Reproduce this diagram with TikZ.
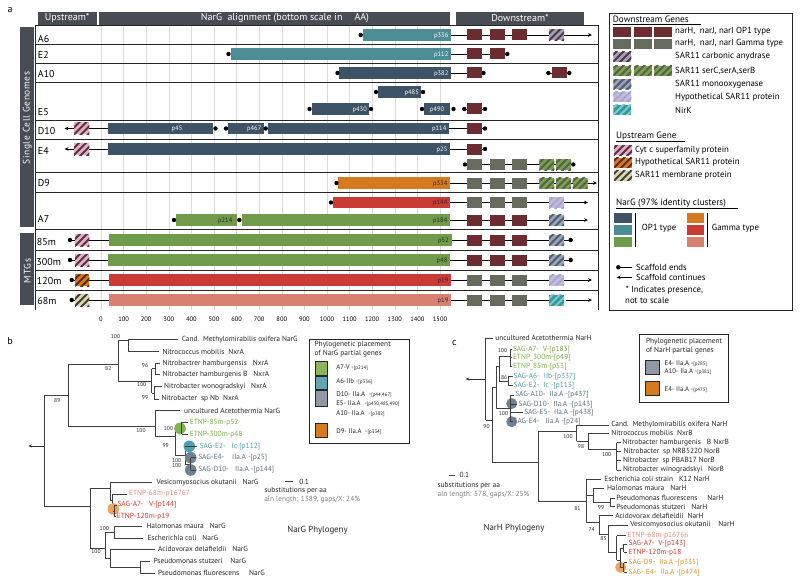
\documentclass[tikz,border=0pt]{standalone}
\usepackage{fontspec}
\setmainfont{PT Sans}
\usetikzlibrary{arrows.meta}
\definecolor{hdr}{HTML}{484C53}
\definecolor{opa}{HTML}{3F5366}
\definecolor{opb}{HTML}{4B8C95}
\definecolor{opc}{HTML}{6F9B4A}
\definecolor{gma}{HTML}{D57A20}
\definecolor{gmb}{HTML}{C93B34}
\definecolor{gmc}{HTML}{D98170}
\definecolor{mar}{HTML}{6B2D30}
\definecolor{olv}{HTML}{676B5E}
\definecolor{lil}{HTML}{D5B3D3}
\definecolor{lblue}{HTML}{90A5CB}
\definecolor{lgreen}{HTML}{BCE3B6}
\definecolor{sgreen}{HTML}{78A443}
\definecolor{sgray}{HTML}{5A5C5A}
\definecolor{hblue}{HTML}{93AEDA}
\definecolor{nirkc}{HTML}{2F9D9B}
\definecolor{nirks}{HTML}{86C6D4}
\definecolor{dbrown}{HTML}{5A2B20}
\definecolor{tgreen}{HTML}{7BAE46}
\definecolor{tteal}{HTML}{4C9BAA}
\definecolor{tslate}{HTML}{5D7083}
\definecolor{tsalm}{HTML}{E68C7A}
\definecolor{tred}{HTML}{D2392D}
\definecolor{torange}{HTML}{E4922F}
\definecolor{cgreen}{HTML}{85B251}
\definecolor{cteal}{HTML}{4D9FAE}
\definecolor{cslate}{HTML}{6F8294}
\definecolor{corange}{HTML}{EBA45C}
\definecolor{lgbox}{HTML}{8DB35F}
\definecolor{ltbox}{HTML}{62A6B0}
\definecolor{lsbox}{HTML}{8E99A4}
\newcommand\fsz[1]{\fontsize{#1}{#1}\selectfont}
\newcommand\hatchrect[6]{%
  \begin{scope}
    \clip ({#1},{#2}) rectangle ({#3},{#4});
    \fill[#5] ({#1},{#2}) rectangle ({#3},{#4});
    \foreach \k in {0,...,7}{\draw[#6,line width=2pt] ({#1-16+\k*7},{#4+2}) -- ++(18,-18);}
  \end{scope}}
\newcommand\gbox[3]{\fill[#3] ({#1},{#2-5.5}) rectangle ({#1+15},{#2+5.5});}
\newcommand\hgene[4]{\hatchrect{#1}{#2-5.5}{#1+15}{#2+5.5}{#3}{#4}}
\newcommand\gcarb[2]{\hgene{#1}{#2}{lblue}{mar}}
\newcommand\gser[2]{\hgene{#1}{#2}{sgreen}{sgray}}
\newcommand\gmono[2]{\hgene{#1}{#2}{lblue}{sgray}}
\newcommand\ghyp[2]{\hgene{#1}{#2}{lil}{hblue}}
\newcommand\gnirk[2]{\hgene{#1}{#2}{nirkc}{nirks}}
\newcommand\trio[2]{\gbox{467.3}{#1}{#2}\gbox{490}{#1}{#2}\gbox{511.7}{#1}{#2}}
\newcommand\sdot[2]{\fill[black] (#1,#2) circle[radius=2.2pt];}
\newcommand\nbar[4]{\fill[#4] ({#1},{#3-5.8}) rectangle ({#2},{#3+5.8});}
\newcommand\lbox[3]{\fill[#3] ({#1},{#2-5}) rectangle ({#1+18},{#2+5});}
\newcommand\lhatch[4]{\hatchrect{#1}{#2-5}{#1+18}{#2+5}{#3}{#4}}
\newcommand\sm[1]{{\fsz{5}#1}}
\begin{document}
\begin{tikzpicture}[x=1pt,y=-1pt,
  ln/.style={line width=0.9pt, black},
  arr/.style={line width=0.9pt, black, -{Stealth[length=4pt,width=3.6pt]}},
  rowl/.style={line width=0.7pt, black!85},
  gridl/.style={line width=0.6pt, black!14},
  blab/.style={font=\fsz{6.5}, inner sep=0.5pt},
  rlab/.style={font=\fsz{10}, anchor=west, inner sep=0pt},
  leg/.style={font=\fsz{8.8}, anchor=west, inner sep=0pt},
  tl/.style={font=\fsz{7.4}, anchor=west, inner sep=0.6pt, text=black!85},
  bs/.style={font=\fsz{5.6}, inner sep=0pt, text=black!85},
  tr/.style={line width=0.8pt, black!75},
  tarr/.style={line width=0.8pt, black!80, -{Stealth[length=3.5pt,width=3pt]}},
  lgb/.style={draw=black!85, line width=0.8pt}]
\useasboundingbox (0,0) rectangle (800,583);
\fill[white] (0,0) rectangle (800,583);

% ================= panel a =================
\node[font=\fsz{10}] (pa) at (10,10) {a};
\fill[hdr] (37.7,11.7) rectangle (96.7,25);
\fill[hdr] (99,11.7) rectangle (450,25);
\fill[hdr] (456,11.7) rectangle (584,25);
\node[font=\fsz{10},text=white] (hup) at (67.2,18.3) {Upstream*};
\node[font=\fsz{10},text=white] (hal) at (285,18.3) {NarG\ \ alignment (bottom scale in\hspace{12pt}AA)};
\node[font=\fsz{10},text=white] (hdn) at (520,18.3) {Downstream*};

\foreach \k [evaluate=\k as \v using int(\k*100)] in {0,...,15}{
  \draw[gridl] ({101+22.6*\k},25) -- ({101+22.6*\k},310);
  \node[font=\fsz{6.5}] (ax\k) at ({101+22.6*\k},319) {\v};
}
\fill[hdr] (20,26.7) rectangle (34,227);
\fill[hdr] (20,233) rectangle (34,305);
\node[rotate=90,text=white,font=\fsz{9.5}\addfontfeature{LetterSpace=6}] (lsc) at (27.3,118) {Single Cell Genomes};
\node[rotate=90,text=white,font=\fsz{9.5}\addfontfeature{LetterSpace=8}] (lmt) at (27.3,271) {MTGs};

\draw[rowl] (35,25) -- (35,310);
\draw[rowl] (598,25) -- (598,310);
\foreach \yy in {25,44.3,63.3,82.7,120.7,139.3,172.7,192.7,229.3,250,270,290}
  \draw[rowl] (35,\yy) -- (598,\yy);

\node[rlab] (rA6) at (37.7,39) {A6};
\node[rlab] (rE2) at (37.7,54.5) {E2};
\node[rlab] (rA10) at (37.7,74) {A10};
\node[rlab] (rE5) at (37.7,112) {E5};
\node[rlab] (rD10) at (37.7,131) {D10};
\node[rlab] (rE4) at (37.7,151) {E4};
\node[rlab] (rD9) at (37.7,183) {D9};
\node[rlab] (rA7) at (37.7,219) {A7};
\node[rlab] (r85) at (36.7,242) {85m};
\node[rlab] (r300) at (36.2,261.5) {300m};
\node[rlab] (r120) at (36.7,281) {120m};
\node[rlab] (r68) at (37.2,301) {68m};

% --- bars
\nbar{362.7}{451}{35}{opb}\sdot{360.7}{35}
\node[blab,text=white,anchor=east] (p336) at (449,35.5) {p336};
\nbar{230.7}{451}{54}{opb}\sdot{228.5}{54}
\node[blab,text=white,anchor=east] (p112) at (449,54.5) {p112};
\nbar{339}{451}{73}{opa}\sdot{337.5}{73}
\node[blab,text=white!85,anchor=east] (p382) at (449,73.5) {p382};
\nbar{377.7}{421}{92}{opa}\sdot{376}{92}\sdot{423}{92}
\node[blab,text=white!85,anchor=east] (p485) at (419.5,92.5) {p485};
\nbar{311.7}{369}{109}{opa}\sdot{309.5}{109}\sdot{371}{109}
\node[blab,text=white!85,anchor=east] (p430) at (367.5,109.5) {p430};
\nbar{424}{450}{109}{opa}\sdot{422}{109}\sdot{453.5}{109}
\node[blab,text=white!85] (p490) at (437,109.5) {p490};
% D10
\nbar{107.7}{213}{128.5}{opa}\sdot{215.5}{128.5}\sdot{226}{128.5}
\nbar{228}{264}{128.5}{opa}\sdot{265.7}{128.5}
\nbar{267.5}{449}{128.5}{opa}
\node[blab,text=white!85] (p45) at (177,129) {p45};
\node[blab,text=white!85,anchor=east] (p467) at (262,129) {p467};
\node[blab,text=white!85,anchor=east] (p114) at (447,129) {p114};
% E4
\nbar{107.7}{450}{149}{opa}
\node[blab,text=white!85,anchor=east] (p25) at (448,149.5) {p25};
% D9
\nbar{338}{450}{183}{gma}\sdot{336.5}{183}
\node[blab,text=black!85,anchor=east] (p334) at (448,183.5) {p334};
% A7
\nbar{332.7}{450}{202.5}{gmb}\sdot{331}{202.5}
\node[blab,text=black!85,anchor=east] (p144) at (448,203) {p144};
\nbar{175.7}{236.7}{220}{opc}\sdot{174}{220}\sdot{239.3}{220}
\node[blab,text=black!85,anchor=east] (p214) at (233,220.5) {p214};
\nbar{242.3}{450}{220}{opc}
\node[blab,text=black!85,anchor=east] (p184) at (448,220.5) {p184};
% MTGs
\nbar{109}{451.7}{240}{opc}
\node[blab,text=black!85,anchor=east] (p52) at (449.5,240.5) {p52};
\nbar{107.7}{450}{260}{opc}
\node[blab,text=black!85,anchor=east] (p48) at (448,260.5) {p48};
\nbar{108.7}{451}{280}{gmb}
\node[blab,text=black!85,anchor=east] (p19a) at (449,280.5) {p19};
\nbar{109}{451}{300}{gmc}
\node[blab,text=black!85,anchor=east] (p19b) at (449,300.5) {p19};

% --- upstream genes
\draw[arr] (74,128.5) -- (64.5,128.5);
\hatchrect{74}{122.5}{89.3}{134.5}{lil}{mar}
\draw[ln] (89.3,128.5) -- (107.7,128.5);
\draw[arr] (74,149) -- (64.5,149);
\hatchrect{74}{143}{89.3}{155}{lil}{mar}
\draw[ln] (89.3,149) -- (107.7,149);
\sdot{70}{240}\draw[ln] (70,240) -- (75,240);
\hatchrect{75}{234}{89.3}{246}{lil}{mar}
\draw[ln] (89.3,240) -- (109,240);
\sdot{70}{260}\draw[ln] (70,260) -- (75,260);
\hatchrect{75}{254}{89.3}{266}{lil}{mar}
\draw[ln] (89.3,260) -- (107.7,260);
\sdot{71.7}{280}\draw[ln] (71.7,280) -- (75,280);
\hatchrect{75}{274}{89.3}{286}{gma}{dbrown}
\draw[ln] (89.3,280) -- (108.7,280);
\sdot{71.7}{300}\draw[ln] (71.7,300) -- (75,300);
\hatchrect{75}{294}{89.3}{306}{lgreen}{mar}
\draw[ln] (89.3,300) -- (109,300);

% --- downstream genes
\draw[arr] (451,35) -- (592,35); \trio{35}{mar} \gcarb{549}{35}
\draw[ln] (451,54) -- (507.3,54); \sdot{507.3}{54}
\gbox{467.3}{54}{mar}\gbox{490}{54}{mar}
\draw[ln] (451,73) -- (483.5,73); \sdot{483.5}{73} \gbox{467.3}{73}{mar}
\draw[ln] (548.3,73) -- (569.3,73); \sdot{548.3}{73}\sdot{569.3}{73} \gbox{551.7}{73}{mar}
\draw[ln] (464.3,109) -- (485,109); \sdot{464.3}{109}\sdot{485}{109} \gbox{467.3}{109}{mar}
\draw[ln] (449,128.5) -- (485,128.5); \sdot{485}{128.5} \gbox{467.3}{128.5}{mar}
\draw[ln] (450,149) -- (485,149); \sdot{485}{149} \gbox{467.3}{149}{mar}
\draw[ln] (465,164.5) -- (573.3,164.5); \sdot{465}{164.5}\sdot{573.3}{164.5}
\trio{164.5}{olv} \gser{539.3}{164.5}\gser{556}{164.5}
\draw[arr] (450,183) -- (597,183); \trio{183}{olv}
\gser{539.3}{183}\gser{556}{183}\gser{572.7}{183}
\draw[arr] (450,202.5) -- (588,202.5); \trio{202.5}{olv} \ghyp{549}{202.5}
\draw[arr] (450,220) -- (588,220); \trio{220}{mar} \gmono{549}{220}
\draw[ln] (451.7,240) -- (570.7,240); \sdot{570.7}{240} \trio{240}{mar} \gmono{549}{240}
\draw[ln] (450,260) -- (570.7,260); \sdot{570.7}{260} \trio{260}{mar} \gmono{549}{260}
\draw[arr] (451,280) -- (592,280); \trio{280}{olv} \ghyp{549}{280}
\draw[ln] (451,300) -- (549,300); \draw[arr] (565.7,300) -- (592,300);
\trio{300}{olv} \gnirk{549}{300}

% --- legend a
\draw[lgb] (609.3,13.3) rectangle (792.3,310.7);
\node[leg,font=\fsz{9.2}] (ldg) at (612.7,19.2) {Downstream Genes};
\draw[line width=0.6pt] (612.7,24.2) -- (700.5,24.2);
\lbox{613.3}{31.7}{mar}\lbox{634}{31.7}{mar}\lbox{654}{31.7}{mar}
\node[leg] (l1) at (675,31.7) {narH,\ \ narJ, narI OP1 type};
\lbox{613.3}{43.7}{olv}\lbox{634}{43.7}{olv}\lbox{654}{43.7}{olv}
\node[leg] (l2) at (675,43.7) {narH,\ \ narJ, narI Gamma type};
\lhatch{613.3}{56.7}{lblue}{mar}
\node[leg] (l3) at (675,56.7) {SAR11 carbonic anydrase};
\lhatch{613.3}{70.7}{sgreen}{sgray}\lhatch{634}{70.7}{sgreen}{sgray}\lhatch{654}{70.7}{sgreen}{sgray}
\node[leg] (l4) at (675,70.7) {SAR11 serC,serA,serB};
\lhatch{613.3}{84.3}{lblue}{sgray}
\node[leg] (l5) at (675,84.3) {SAR11 monooxygenase};
\lhatch{613.3}{97}{lil}{hblue}
\node[leg] (l6) at (675,97) {Hypothetical SAR11 protein};
\lhatch{613.3}{110}{nirkc}{nirks}
\node[leg] (l7) at (675,110) {NirK};
\node[leg,font=\fsz{9.2}] (lug) at (616,136) {Upstream Gene};
\draw[line width=0.6pt] (616,141) -- (685,141);
\lhatch{614}{150}{lil}{mar}
\node[leg] (l8) at (635,150) {Cyt c superfamily protein};
\lhatch{614}{162.7}{gma}{dbrown}
\node[leg] (l9) at (635,162.7) {Hypothetical SAR11 protein};
\lhatch{614}{175.7}{lgreen}{mar}
\node[leg] (l10) at (635,175.7) {SAR11 membrane protein};
\node[leg,font=\fsz{9.2}] (lng) at (616,203.3) {NarG (97\% identity clusters)};
\draw[line width=0.6pt] (616,208.5) -- (738,208.5);
\fill[opa] (614,213.3) rectangle (631.7,222.7);
\fill[opb] (614,225.3) rectangle (631.7,235);
\fill[opc] (614,237.3) rectangle (631.7,246.7);
\draw[line width=0.6pt] (635,213.3) -- (635,247);
\node[leg] (lop) at (641.7,228) {OP1 type};
\fill[gma] (686.7,213.3) rectangle (704.3,222.7);
\fill[gmb] (686.7,225.3) rectangle (704.3,235);
\fill[gmc] (686.7,237.3) rectangle (704.3,246.7);
\draw[line width=0.6pt] (707.7,213.3) -- (707.7,247);
\node[leg] (lgm) at (711.7,228) {Gamma type};
\sdot{618.3}{267.3}
\draw[ln] (618.3,267.3) -- (631.7,267.3);
\node[leg] (lse) at (636,267.3) {Scaffold ends};
\draw[arr] (631.7,277.3) -- (616.7,277.3);
\node[leg] (lsc2) at (636,277.3) {Scaffold continues};
\node[leg] (lst1) at (625.7,290) {* Indicates presence,};
\node[leg] (lst2) at (625,300.7) {not to scale};

% ================= panel b =================
\node[font=\fsz{10}] (pb) at (10,341) {b};
\draw[tarr] (44.3,446) -- (28.3,446);
\draw[tr] (44.3,395) -- (44.3,506);
\draw[tr] (44.3,395) -- (68.3,395);
\draw[tr] (68.3,364.3) -- (68.3,426.7);
\draw[tr] (68.3,364.3) -- (118.3,364.3);
\draw[tr] (118.3,340) -- (118.3,381);
\draw[tr] (118.3,340) -- (128.3,340);
\draw[tr] (128.3,339.3) -- (128.3,351.7);
\draw[tr] (128.3,339.3) -- (178.3,339.3);
\draw[tr] (128.3,351.7) -- (159.3,351.7);
\draw[tr] (118.3,381) -- (151.7,381);
\draw[tr] (151.7,368.5) -- (151.7,393);
\draw[tr] (151.7,368.5) -- (155,368.5);
\draw[tr] (155,363.3) -- (155,374.3);
\draw[tr] (155,363.3) -- (160,363.3);
\draw[tr] (155,374.3) -- (160,374.3);
\draw[tr] (151.7,393) -- (154,393);
\draw[tr] (154,386.7) -- (154,399);
\draw[tr] (154,386.7) -- (161.5,386.7);
\draw[tr] (154,399) -- (159,399);
\draw[tr] (68.3,426.7) -- (155,426.7);
\draw[tr] (155,410.7) -- (155,436);
\draw[tr] (155,410.7) -- (180,410.7);
\draw[tr] (155,436) -- (175,436);
\draw[tr] (175,428.3) -- (175,455);
\draw[tr] (175,428.3) -- (181.7,428.3);
\fill[cgreen] (180,428.3) circle[radius=5.8pt];
\draw[tr] (181.7,422.3) -- (181.7,434.3);
\draw[tr] (181.7,422.3) -- (188,422.3);
\draw[tr] (181.7,434.3) -- (188,434.3);
\draw[tr] (175,455) -- (185,455);
\draw[tr] (185,446.7) -- (185,464);
\fill[cteal] (189.3,446.3) circle[radius=5.8pt];
\draw[tr] (185,446.7) -- (197,446.7);
\draw[tr] (185,464) -- (190.7,464);
\fill[cslate] (190.7,457.7) circle[radius=5.8pt];
\fill[cslate] (190.7,470) circle[radius=5.8pt];
\draw[tr] (190.7,457.7) -- (190.7,470);
\draw[tr] (190.7,457.7) -- (196,457.7);
\draw[tr] (190.7,470) -- (196,470);
% lower
\draw[tr] (44.3,506) -- (90,506);
\draw[tr] (90,488.3) -- (90,548);
\draw[tr] (90,488.3) -- (110,488.3);
\draw[tr] (110,482.3) -- (110,500);
\draw[tr] (110,482.3) -- (151.7,482.3);
\draw[tr] (110,500) -- (112.7,500);
\draw[tr] (112.7,494) -- (112.7,511);
\draw[tr] (112.7,494) -- (126.7,494);
\fill[corange] (113.3,509) circle[radius=5.8pt];
\draw[tr] (112.7,511) -- (114.7,511);
\draw[tr] (114.7,505) -- (114.7,516.7);
\draw[tr] (114.7,505) -- (116.5,505);
\draw[tr] (114.7,516.7) -- (116,516.7);
\draw[tr] (90,548) -- (105,548);
\draw[tr] (105,532) -- (105,558);
\draw[tr] (105,532) -- (114.3,532);
\draw[tr] (114.3,526) -- (114.3,538.3);
\draw[tr] (114.3,526) -- (141.7,526);
\draw[tr] (114.3,538.3) -- (143.3,538.3);
\draw[tr] (105,558) -- (110,558);
\draw[tr] (110,549.3) -- (110,567);
\draw[tr] (110,549.3) -- (155,549.3);
\draw[tr] (110,567) -- (140,567);
\draw[tr] (140,561) -- (140,573.3);
\draw[tr] (140,561) -- (150,561);
\draw[tr] (140,573.3) -- (155,573.3);
% leaves b
\node[tl] (b1) at (181,339.3) {Cand.\ \ Methylomirabilis oxifera NarG};
\node[tl] (b2) at (161.7,351.7) {Nitrococcus mobilis\ \ NxrA};
\node[tl] (b3) at (161.7,363.3) {Nitrobactrer hamburgensis\ \ \ NxrA};
\node[tl] (b4) at (161.7,374.3) {Nitrobacter hamburgenis B\ \ \ NxrA};
\node[tl] (b5) at (163.3,386.7) {Nitrobacter wonogradskyi\ \ \ NxrA};
\node[tl] (b6) at (160.7,399) {Nitrobacter\ \ sp Nb\ \ NxrA};
\node[tl] (b7) at (183.3,410.7) {uncultured Acetothermia NarG};
\node[tl,text=tgreen] (b8) at (189,422.3) {ETNP-85m-p52};
\node[tl,text=tgreen] (b9) at (189,434.3) {ETNP-300m-p48};
\node[tl,text=tteal] (b10) at (199,446.7) {SAG-E2-\ \ \ Ic-[p112]};
\node[tl,text=tslate] (b11) at (197.5,457.7) {SAG-E4-\ \ \ \ IIa.A\ -[p25]};
\node[tl,text=tslate] (b12) at (197.5,470) {SAG-D10-\ \ \ IIa.A\ -[p144]};
\node[tl] (b13) at (155.7,482.3) {Vesicomyosocius okutanii\ \ \ NarG};
\node[tl,text=tsalm] (b14) at (128.3,494) {ETNP-68m-p16767};
\node[tl,text=tred] (b15) at (116.7,505) {SAG-A7-\ \ \ V-[p144]};
\node[tl,text=tred] (b16) at (116,516.7) {ETNP-120m-p19};
\node[tl] (b17) at (145.7,526) {Halomonas maura\ \ \ NarG};
\node[tl] (b18) at (146.7,538.3) {Escherichia coli\ \ \ NarG};
\node[tl] (b19) at (157.3,549.3) {Acidovorax delafieldii\ \ \ NarG};
\node[tl] (b20) at (152.7,561) {Pseudomonas stutzeri\ \ \ \ NarG};
\node[tl] (b21) at (157.3,573.3) {Pseudomonas fluorescens\ \ \ \ \ NarG};
% bootstrap b
\node[bs] (s1) at (115.5,337) {100};
\node[bs] (s2) at (108.3,368.3) {82};
\node[bs] (s3) at (145,366) {96};
\node[bs] (s4) at (141.7,384.8) {100};
\node[bs] (s5) at (145,397.5) {99};
\node[bs] (s6) at (57.3,400.5) {89};
\node[bs] (s7) at (141,431) {100};
\node[bs] (s8) at (168.5,428.3) {100};
\node[bs] (s9) at (165.7,446) {99};
\node[bs] (s10) at (176.7,460.7) {100};
\node[bs] (s11) at (176.7,466) {100};
\node[bs] (s12) at (96,552) {100};
\node[bs] (s13) at (104.3,528.8) {100};
% scale b
\draw[tr] (285,481.7) -- (293.3,481.7);
\node[tl] (sc1) at (298.5,481.7) {0.1};
\node[tl] (sc2) at (263.5,490.7) {substitutions per aa};
\node[tl,text=black!50] (sc3) at (263.5,500) {aln length: 1389, gaps/X: 24\%};
\node[font=\fsz{8.8},text=black!85] (tnb) at (317.5,530.7) {NarG Phylogeny};
% legend b
\draw[lgb] (309.3,339.3) rectangle (409.3,443.3);
\node[tl] (lb1) at (313.8,345) {Phylogenetic placement};
\node[tl] (lb2) at (313.8,354) {of NarG partial genes};
\filldraw[fill=lgbox,draw=black!85,line width=0.7pt] (315,361.7) rectangle (327.7,375);
\filldraw[fill=ltbox,draw=black!85,line width=0.7pt] (315,376) rectangle (327.7,389.3);
\filldraw[fill=lsbox,draw=black!85,line width=0.7pt] (315,390) rectangle (327.7,406);
\filldraw[fill=gma,draw=black!85,line width=0.7pt] (315,423.3) rectangle (327.7,437.3);
\node[tl,font=\fsz{6.8}] (lb3) at (335.5,367.7) {A7-V -\sm{[p214]}};
\node[tl,font=\fsz{6.8}] (lb4) at (335.5,381.7) {A6-IIb -\sm{[p336]}};
\node[tl,font=\fsz{6.8}] (lb5) at (335.5,395) {D10- IIa.A\ \ -\sm{[p44,467]}};
\node[tl,font=\fsz{6.8}] (lb6) at (335.5,403.5) {E5- IIa.A\ \ -\sm{[p430,485,490]}};
\node[tl,font=\fsz{6.8}] (lb7) at (335.5,413.3) {A10- IIa.A\ \ -\sm{[p382]}};
\node[tl,font=\fsz{6.8}] (lb8) at (335.5,431.7) {D9- IIa.A\ \ -\sm{[p334]}};

% ================= panel c =================
\node[font=\fsz{10}] (pc) at (454.3,342.7) {c};
\draw[tarr] (485.7,379) -- (465.7,379);
\draw[tr] (485.7,338.3) -- (485.7,420);
\draw[tr] (485.7,338.3) -- (492.7,338.3);
\draw[tr] (485.7,420) -- (492.7,420);
\draw[tr] (492.7,387) -- (492.7,462.7);
\draw[tr] (492.7,387) -- (496,387);
\draw[tr] (496,366) -- (496,408);
\draw[tr] (496,366) -- (499,366);
\draw[tr] (499,356) -- (499,381);
\draw[tr] (499,356) -- (510,356);
\draw[tr] (510,349.3) -- (510,366.7);
\draw[tr] (510,349.3) -- (512,349.3);
\draw[tr] (510,357.7) -- (512,357.7);
\draw[tr] (510,366.7) -- (512,366.7);
\draw[tr] (499,381) -- (508.3,381);
\draw[tr] (508.3,376.7) -- (508.3,385.7);
\draw[tr] (508.3,376.7) -- (512.5,376.7);
\draw[tr] (508.3,385.7) -- (512.5,385.7);
\draw[tr] (496,408) -- (510,408);
\fill[cslate] (511.7,403.5) circle[radius=5.5pt];
\fill[cslate] (511.7,421.7) circle[radius=5.5pt];
\draw[tr] (510,395) -- (510,421.7);
\draw[tr] (510,395) -- (514,395);
\draw[tr] (510,404.3) -- (517,404.3);
\draw[tr] (510,412.3) -- (522.7,412.3);
\draw[tr] (510,421.7) -- (513,421.7);
\draw[tr] (492.7,462.7) -- (538.3,462.7);
\draw[tr] (538.3,431.7) -- (538.3,501.7);
\draw[tr] (538.3,431.7) -- (576.7,431.7);
\draw[tr] (576.7,425) -- (576.7,441);
\draw[tr] (576.7,425) -- (609,425);
\draw[tr] (576.7,441) -- (588.3,441);
\draw[tr] (588.3,433.3) -- (588.3,449.3);
\draw[tr] (588.3,433.3) -- (609,433.3);
\draw[tr] (588.3,449.3) -- (616.7,449.3);
\draw[tr] (616.7,442.7) -- (616.7,470);
\foreach \yy in {442.7,451.7,460.7,470} \draw[tr] (616.7,\yy) -- (620.5,\yy);
\draw[tr] (538.3,501.7) -- (586,501.7);
\draw[tr] (586,479) -- (586,522);
\draw[tr] (586,479) -- (601,479);
\draw[tr] (586,495) -- (593,495);
\draw[tr] (593,488.3) -- (593,502.5);
\draw[tr] (593,488.3) -- (604,488.3);
\draw[tr] (593,502.5) -- (610,502.5);
\draw[tr] (610,498.3) -- (610,506.7);
\draw[tr] (610,498.3) -- (614.5,498.3);
\draw[tr] (610,506.7) -- (614.5,506.7);
\draw[tr] (586,522) -- (599.3,522);
\draw[tr] (599.3,515.7) -- (599.3,534);
\draw[tr] (599.3,515.7) -- (613,515.7);
\draw[tr] (599.3,534) -- (608.3,534);
\draw[tr] (608.3,525) -- (608.3,552);
\draw[tr] (608.3,525) -- (628,525);
\draw[tr] (608.3,552) -- (616.7,552);
\draw[tr] (616.7,535.7) -- (616.7,560);
\draw[tr] (616.7,535.7) -- (626,535.7);
\fill[corange] (620.7,567.3) circle[radius=5.5pt];
\draw[tr] (616.7,560) -- (620.7,560);
\draw[tr] (620.7,548) -- (620.7,567.5);
\draw[tr] (620.7,548) -- (623.5,548);
\draw[tr] (623.5,544) -- (623.5,552.3);
\draw[tr] (623.5,544) -- (627,544);
\draw[tr] (623.5,552.3) -- (627,552.3);
\draw[tr] (620.7,567.5) -- (623.5,567.5);
\draw[tr] (623.5,562.7) -- (623.5,572.3);
\draw[tr] (623.5,562.7) -- (627,562.7);
\draw[tr] (623.5,572.3) -- (627,572.3);
% leaves c
\node[tl] (c1) at (494.5,338.3) {uncultured Acetothermia NarH};
\node[tl,text=tgreen] (c2) at (512.2,349.3) {SAG-A7-\ \ V-[p183]};
\node[tl,text=tgreen] (c3) at (512.2,357.7) {ETNP\_300m-[p49]};
\node[tl,text=tgreen] (c4) at (512.2,366.7) {ETNP\_85m-[p53]};
\node[tl,text=tteal] (c5) at (512.8,376.7) {SAG-A6-\ \ IIb-[p337]};
\node[tl,text=tteal] (c6) at (512.8,385.7) {SAG-E2-\ \ Ic -[p113]};
\node[tl,text=tslate] (c7) at (514.5,395) {SAG-A10-\ \ IIa.A -[p437]};
\node[tl,text=tslate] (c8) at (517.8,404.3) {SAG-D10-\ \ IIa.A -[p143]};
\node[tl,text=tslate] (c9) at (523.5,412.3) {SAG-E5-\ \ IIa.A -[p438]};
\node[tl,text=tslate] (c10) at (512.8,421.7) {SAG-E4-\ \ \ IIa.A -[p24]};
\node[tl] (c11) at (610.5,424.6) {Cand.\ \ Methylomirabilis oxifera NarH};
\node[tl] (c12) at (610.5,433) {Nitrococcus mobilis\ \ NxrB};
\node[tl] (c13) at (621.5,442.7) {Nitrobacter hamburgenis\ \ \ B NxrB};
\node[tl] (c14) at (622.8,451.7) {Nitrobacter\ \ sp NRB5220 NorB};
\node[tl] (c15) at (622.2,460.7) {Nitrobacter\ \ sp PBAB17 NorB};
\node[tl] (c16) at (622.2,470) {Nitrobacter winogradskyi\ \ \ NorB};
\node[tl] (c17) at (603.5,479) {Escherichia coli strain\ \ \ K12 NarH};
\node[tl] (c18) at (606.2,488.3) {Halomonas maura\ \ \ NarH};
\node[tl] (c19) at (615.5,498.3) {Pseudomonas fluorescens\ \ \ \ \ NarH};
\node[tl] (c20) at (615.5,506.7) {Pseudomonas stutzeri\ \ \ NarH};
\node[tl] (c21) at (614.5,515.7) {Acidovorax delafieldii\ \ NarH};
\node[tl] (c22) at (629.5,525) {Vesicomyosocius okutanii\ \ \ \ NarH};
\node[tl,text=tsalm] (c23) at (626.8,535.7) {ETNP-68m-p16766};
\node[tl,text=tred] (c24) at (627.8,544) {SAG-A7-\ \ V-[p143]};
\node[tl,text=tred] (c25) at (627.8,552.3) {ETNP-120m-p18};
\node[tl,text=torange] (c26) at (627.8,562.7) {SAG-D9-\ \ IIa.A -[p335]};
\node[tl,text=torange] (c27) at (627.8,572.3) {SAG- E4-\ \ IIa.A -[p474]};
% bootstrap c
\node[bs] (t1) at (502.5,350.8) {100};
\node[bs,anchor=east] (t2) at (507.3,377.5) {86};
\node[bs] (t3) at (503.5,414) {100};
\node[bs] (t4) at (486.5,426.7) {90};
\node[bs] (t5) at (568,436.7) {100};
\node[bs] (t6) at (581,446.7) {98};
\node[bs] (t7) at (606.7,455) {100};
\node[bs] (t8) at (577.3,508.3) {81};
\node[bs] (t9) at (601,507.7) {99};
\node[bs] (t10) at (591.7,530) {74};
\node[bs] (t11) at (603.3,539) {83};
% scale c
\draw[tr] (449,475) -- (455,475);
\node[tl] (sd1) at (458.8,475) {0.1};
\node[tl] (sd2) at (436.8,485.7) {substitutions per aa};
\node[tl,text=black!50] (sd3) at (436.8,495) {aln length: 578, gaps/X: 25\%};
\node[font=\fsz{8.8},text=black!85] (tnc) at (514,528.3) {NarH Phylogeny};
% legend c
\draw[lgb] (639.3,334) rectangle (728.3,402.7);
\node[tl] (lc1) at (645.2,341.7) {Phylogenetic placement};
\node[tl] (lc2) at (645.2,351) {of NarH partial genes};
\filldraw[fill=lsbox,draw=black!85,line width=0.7pt] (645.7,360.7) rectangle (659,374.3);
\filldraw[fill=gma,draw=black!85,line width=0.7pt] (645.7,381.7) rectangle (659,395.7);
\node[tl,font=\fsz{6.8}] (lc3) at (663.8,363.3) {E4- IIa.A -\sm{[p285]}};
\node[tl,font=\fsz{6.8}] (lc4) at (663.8,371.7) {A10- IIa.A -\sm{[p381]}};
\node[tl,font=\fsz{6.8}] (lc5) at (663.8,390) {E4- IIa.A -\sm{[p475]}};
\end{tikzpicture}
\end{document}
